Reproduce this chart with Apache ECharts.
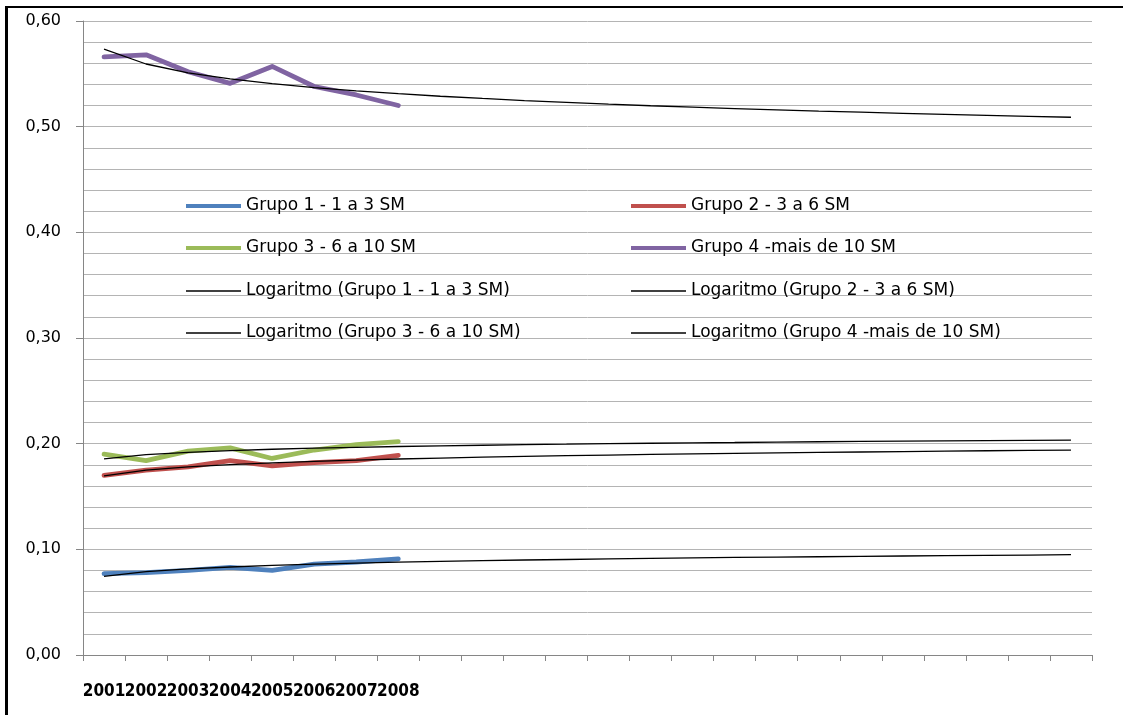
<!DOCTYPE html>
<html>
<head>
<meta charset="utf-8">
<title>Grupos de renda</title>
<script src="https://cdn.jsdelivr.net/npm/echarts@6/dist/echarts.min.js"></script>
<style>
  html, body { margin: 0; padding: 0; background: #fff; }
  #chart { width: 1123px; height: 715px; }
</style>
</head>
<body>
<div id="chart"></div>
<script>
// Year slots: the first eight are observed years, the rest hold the trend projection
const categories = ['2001', '2002', '2003', '2004', '2005', '2006', '2007', '2008',
  '', '', '', '', '', '', '', '', '', '', '', '', '', '', '', ''];

const grupo1 = [0.077, 0.078, 0.080, 0.083, 0.080, 0.086, 0.088, 0.091];
const grupo2 = [0.170, 0.175, 0.178, 0.184, 0.179, 0.182, 0.184, 0.189];
const grupo3 = [0.190, 0.184, 0.193, 0.196, 0.186, 0.194, 0.199, 0.202];
const grupo4 = [0.566, 0.568, 0.552, 0.541, 0.557, 0.538, 0.530, 0.520];

// Logarithmic trend lines across all 24 slots
const log1 = [0.0744, 0.0789, 0.0815, 0.0833, 0.0848, 0.0860, 0.0870, 0.0878,
  0.0886, 0.0893, 0.0899, 0.0904, 0.0909, 0.0914, 0.0919, 0.0923,
  0.0927, 0.0930, 0.0934, 0.0937, 0.0940, 0.0943, 0.0946, 0.0949];
const log2 = [0.1696, 0.1749, 0.1780, 0.1802, 0.1819, 0.1833, 0.1845, 0.1855,
  0.1864, 0.1872, 0.1879, 0.1886, 0.1892, 0.1898, 0.1903, 0.1908,
  0.1913, 0.1917, 0.1921, 0.1925, 0.1929, 0.1933, 0.1936, 0.1939];
const log3 = [0.1857, 0.1896, 0.1918, 0.1934, 0.1947, 0.1957, 0.1965, 0.1973,
  0.1979, 0.1985, 0.1991, 0.1995, 0.2000, 0.2004, 0.2008, 0.2011,
  0.2015, 0.2018, 0.2021, 0.2024, 0.2027, 0.2029, 0.2032, 0.2034];
const log4 = [0.5733, 0.5593, 0.5510, 0.5452, 0.5407, 0.5370, 0.5339, 0.5312,
  0.5288, 0.5267, 0.5247, 0.5230, 0.5213, 0.5198, 0.5184, 0.5171,
  0.5159, 0.5147, 0.5137, 0.5126, 0.5116, 0.5107, 0.5098, 0.5089];

const names = {
  g1: 'Grupo 1 - 1 a 3 SM',
  g2: 'Grupo 2 - 3 a 6 SM',
  g3: 'Grupo 3 - 6 a 10 SM',
  g4: 'Grupo 4 -mais de 10 SM',
  l1: 'Logaritmo (Grupo 1 - 1 a 3 SM)',
  l2: 'Logaritmo (Grupo 2 - 3 a 6 SM)',
  l3: 'Logaritmo (Grupo 3 - 6 a 10 SM)',
  l4: 'Logaritmo (Grupo 4 -mais de 10 SM)'
};

const gridColor = '#b4b4b4';
const axisColor = '#868686';

function mainSeries(name, data, color) {
  return {
    name, type: 'line', data, symbol: 'none', smooth: false,
    lineStyle: { color, width: 4.8, cap: 'round', join: 'round' },
    itemStyle: { color },
    z: 2
  };
}
function trendSeries(name, data) {
  return {
    name, type: 'line', data, symbol: 'none',
    lineStyle: { color: '#000', width: 1.3 },
    itemStyle: { color: '#000' },
    z: 3
  };
}

// Legend blocks: thick swatches for the groups, hairline swatches for the trends
function legendBlock(left, top, data, swatchHeight) {
  return {
    orient: 'vertical',
    left, top, data,
    padding: 0,
    icon: 'rect',
    itemWidth: 55,
    itemHeight: swatchHeight,
    itemGap: 22,
    itemStyle: { borderWidth: 0 },
    textStyle: { fontFamily: 'DejaVu Sans', fontSize: 17, color: '#000', lineHeight: 20 },
    selectedMode: false
  };
}

const chart = echarts.init(document.getElementById('chart'), null, { renderer: 'canvas' });
chart.setOption({
  animation: false,
  backgroundColor: '#fff',
  grid: { left: 83, top: 21, right: 31, bottom: 60 },
  legend: [
    legendBlock(186, 196, [names.g1, names.g3], 4),
    legendBlock(186, 281, [names.l1, names.l3], 1.5),
    legendBlock(631, 196, [names.g2, names.g4], 4),
    legendBlock(631, 281, [names.l2, names.l4], 1.5)
  ],
  xAxis: {
    type: 'category',
    data: categories,
    boundaryGap: true,
    axisLine: { lineStyle: { color: axisColor, width: 1 } },
    axisTick: { show: true, interval: 0, length: 6, lineStyle: { color: axisColor } },
    axisLabel: {
      interval: 0, margin: 28,
      fontFamily: 'DejaVu Sans Condensed', fontWeight: 'bold', fontSize: 17, color: '#000'
    },
    splitLine: { show: false }
  },
  yAxis: {
    type: 'value',
    min: 0, max: 0.6, interval: 0.1,
    axisLine: { show: true, lineStyle: { color: axisColor, width: 1 } },
    axisTick: { show: true, length: 7, lineStyle: { color: axisColor } },
    minorTick: { show: false, splitNumber: 5 },
    axisLabel: {
      margin: 22,
      fontFamily: 'DejaVu Sans', fontSize: 16, color: '#000',
      formatter: v => v.toFixed(2).replace('.', ',')
    },
    splitLine: { show: true, lineStyle: { color: gridColor, width: 1 } },
    minorSplitLine: { show: true, lineStyle: { color: gridColor, width: 1 } }
  },
  series: [
    mainSeries(names.g1, grupo1, '#4F81BD'),
    mainSeries(names.g2, grupo2, '#C0504D'),
    mainSeries(names.g3, grupo3, '#9BBB59'),
    mainSeries(names.g4, grupo4, '#8064A2'),
    trendSeries(names.l1, log1),
    trendSeries(names.l2, log2),
    trendSeries(names.l3, log3),
    trendSeries(names.l4, log4)
  ],
  graphic: [
    // page frame: heavy rule on the left, thin rule along the top
    { type: 'rect', left: 5, top: 6, shape: { width: 3, height: 709 }, style: { fill: '#000' }, silent: true },
    { type: 'rect', left: 5, top: 6, shape: { width: 1118, height: 2 }, style: { fill: '#000' }, silent: true }
  ]
});
</script>
</body>
</html>
